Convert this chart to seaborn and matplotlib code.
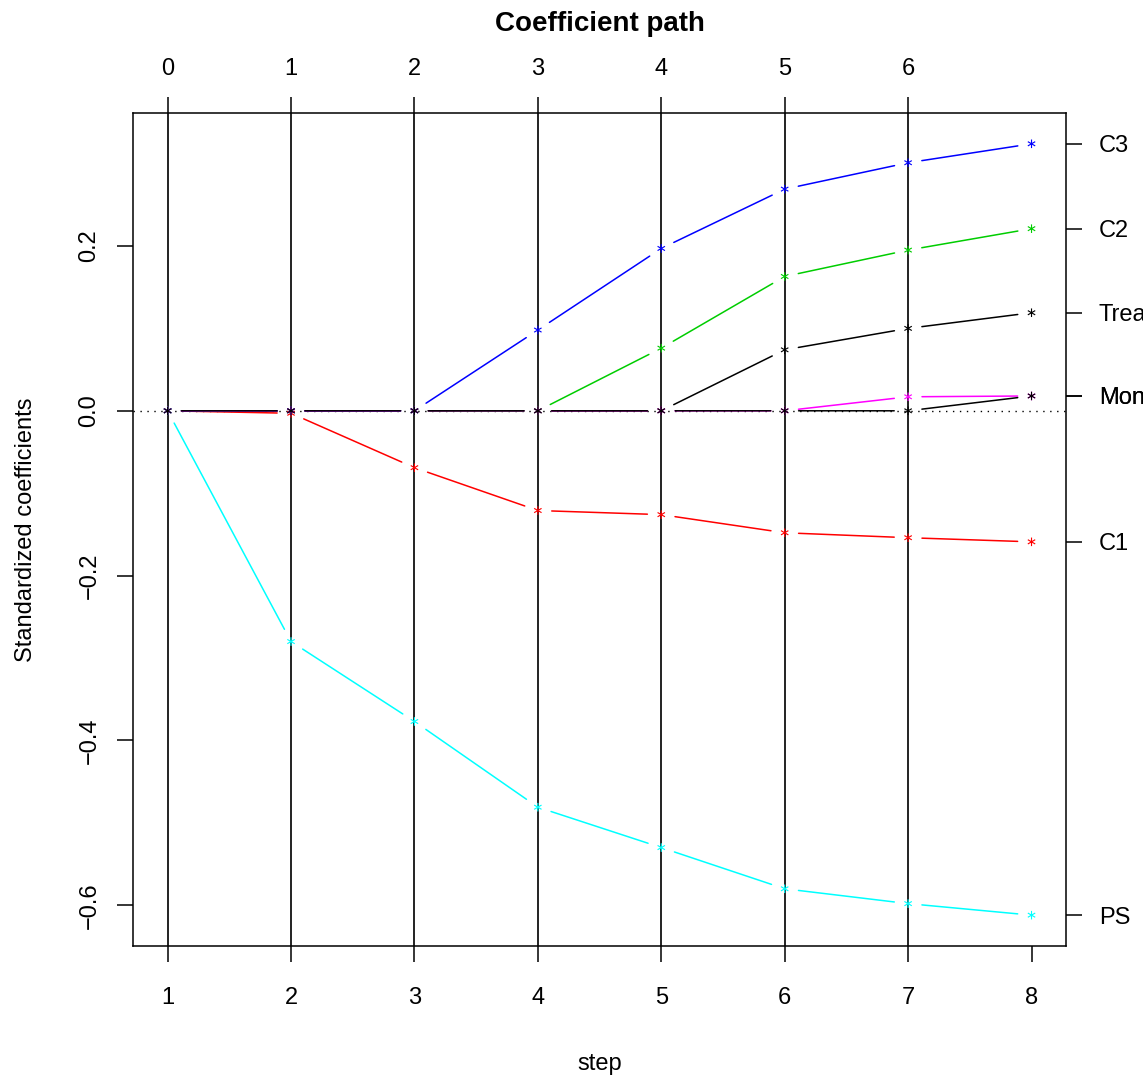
import numpy as np
import pandas as pd
import matplotlib
matplotlib.use("Agg")
import matplotlib.pyplot as plt
import seaborn as sns

# LARS coefficient path: standardized coefficient of each variable at every step
steps = [1, 2, 3, 4, 5, 6, 7, 8]
df_labels = ["0", "1", "2", "3", "4", "5", "6"]   # top axis: active-set size

treat = [0, 0, 0, 0, 0, 0.074, 0.100, 0.119]
c1 = [0, -0.003, -0.069, -0.121, -0.126, -0.148, -0.154, -0.159]
c2 = [0, 0, 0, 0, 0.076, 0.163, 0.195, 0.221]
c3 = [0, 0, 0, 0.098, 0.197, 0.269, 0.301, 0.324]
ps = [0, -0.280, -0.377, -0.481, -0.530, -0.580, -0.598, -0.612]
price = [0, 0, 0, 0, 0, 0, 0.017, 0.018]
month = [0, 0, 0, 0, 0, 0, 0, 0.018]

var_names = ["Treat", "C1", "C2", "C3", "PS", "Price", "Month"]
var_colors = ["#000000", "#FF0000", "#00CD00", "#0000FF", "#00FFFF", "#FF00FF", "#000000"]
series = [treat, c1, c2, c3, ps, price, month]

long = pd.DataFrame({
    "step": np.tile(steps, len(var_names)),
    "coef": np.concatenate(series),
    "var": np.repeat(var_names, len(steps)),
})

sns.set_style("white")
plt.rcParams["font.family"] = ["Liberation Sans", "DejaVu Sans"]
plt.rcParams["axes.linewidth"] = 1.1
for key in ("text.color", "axes.labelcolor", "xtick.color", "ytick.color"):
    plt.rcParams[key] = "black"

fig = plt.figure(figsize=(11.43, 10.8), dpi=100)
ax = fig.add_axes([0.1164, 0.1241, 0.8163, 0.7713])

ax.set_xlim(0.72, 8.28)
ax.set_ylim(-0.6494, 0.3614)

# vertical guides at each step where the active set changes
for s in steps[:-1]:
    ax.axvline(s, color="#111111", lw=1.3, zorder=1)

# zero reference
ax.axhline(0, color="black", lw=1.0, ls=(0, (1, 4)), zorder=1)

# gapped segments between consecutive points (type "b" look)
for vals, col in zip(series, var_colors):
    for i in range(len(steps) - 1):
        ax.annotate("", xy=(steps[i + 1], vals[i + 1]), xytext=(steps[i], vals[i]),
                    arrowprops=dict(arrowstyle="-", color=col, lw=1.1,
                                    shrinkA=10, shrinkB=10),
                    zorder=2)

palette = dict(zip(var_names, var_colors))
sns.scatterplot(data=long, x="step", y="coef", hue="var", palette=palette,
                marker=r"$\ast$", s=38, linewidth=0, legend=False, ax=ax, zorder=3)

ax.set_xticks(steps)
ax.set_xticklabels([str(s) for s in steps])
ax.set_yticks([-0.6, -0.4, -0.2, 0.0, 0.2])
ax.set_yticklabels(["\u22120.6", "\u22120.4", "\u22120.2", "0.0", "0.2"],
                   rotation=90, va="center")
ax.tick_params(axis="both", direction="out", length=11.5, width=1.1,
               labelsize=17, colors="black")
ax.tick_params(axis="x", pad=18)
ax.tick_params(axis="y", pad=12)
ax.set_xlabel("step", fontsize=17, labelpad=32)
ax.set_ylabel("Standardized coefficients", fontsize=17, labelpad=30)
for sp in ax.spines.values():
    sp.set_visible(True)
    sp.set_color("black")

# top axis: number of active variables
top = ax.twiny()
top.set_xlim(ax.get_xlim())
top.set_xticks(steps[:-1])
top.set_xticklabels(df_labels)
top.tick_params(axis="x", direction="out", length=11.5, width=1.1,
                labelsize=17, pad=12)
top.set_title("Coefficient path", fontsize=20, fontweight="bold", pad=59)

# right axis: variable names at final coefficient values
right = ax.twinx()
right.set_ylim(ax.get_ylim())
right.set_yticks([v[-1] for v in series])
right.set_yticklabels(var_names)
right.tick_params(axis="y", direction="out", length=11.5, width=1.1,
                  labelsize=17, pad=12)
for a in (top, right):
    for sp in a.spines.values():
        sp.set_visible(False)

fig.savefig("out.png", dpi=100)
